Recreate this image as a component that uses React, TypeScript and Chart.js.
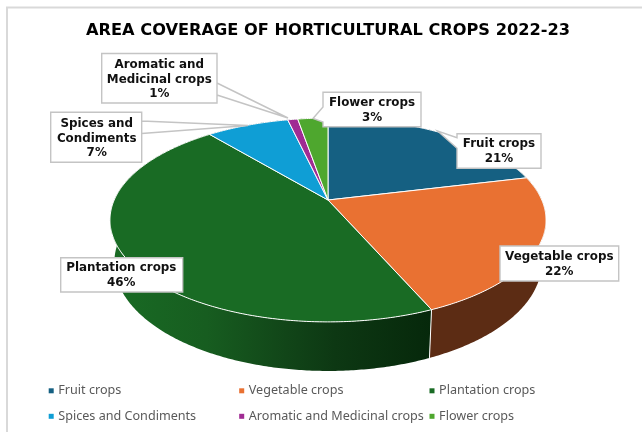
import React, { useEffect, useRef } from "react";
import { Chart, registerables } from "chart.js";

Chart.register(...registerables);

const categories = ["Fruit crops", "Vegetable crops", "Plantation crops", "Spices and Condiments", "Aromatic and Medicinal crops", "Flower crops"];
const areaShare = [21.2, 22.3, 45.5, 7.4, 0.9, 2.7];
const percentLabels = ["21%", "22%", "46%", "7%", "1%", "3%"];
const sliceColors = ["#156082", "#E97132", "#196B24", "#0F9ED5", "#A02B93", "#4EA72E"];
const chartTitle = "AREA COVERAGE OF HORTICULTURAL CROPS 2022-23";

// Callout layout (one per category): wrapped name, box, tail polygon, text anchor
const calloutLines = [
  ["Fruit crops"],
  ["Vegetable crops"],
  ["Plantation crops"],
  ["Spices and", "Condiments"],
  ["Aromatic and", "Medicinal crops"],
  ["Flower crops"],
];
const calloutBoxes = [
  { x: 457, y: 133.7, w: 84, h: 34.6, cx: 499, top: 144, tail: [[457, 137.7], [437.7, 131], [457, 148.3]] },
  { x: 500, y: 246, w: 118.7, h: 35, cx: 559.3, top: 257.3, tail: [] },
  { x: 60.7, y: 257.7, w: 122, h: 34.3, cx: 121.3, top: 268.3, tail: [] },
  { x: 50.7, y: 112.3, w: 91, h: 50, cx: 96.7, top: 124, tail: [[141.7, 121], [248, 125.5], [141.7, 133.5]] },
  { x: 101.7, y: 53.5, w: 115.3, h: 49.5, cx: 159.3, top: 65, tail: [[217, 83], [288, 118], [217, 95]] },
  { x: 323, y: 92.3, w: 98, h: 34.4, cx: 372, top: 103, tail: [[323, 107], [313, 118.5], [323, 122]] },
];

// Perspective parameters of the pie disc
const CX = 328, CY = 200, RX = 213.8, RY = 98, P = 0.196, SHRINK = 0.98, DEPTH = 41.4;

function topPoint(a: number): [number, number] {
  const u = Math.cos(a), v = Math.sin(a), w = 1 - P * v;
  return [CX + (RX * u) / w, CY + (RY * v) / w];
}
function bottomPoint(a: number): [number, number] {
  const [x, y] = topPoint(a);
  const w = 1 - P * Math.sin(a);
  return [CX + SHRINK * (x - CX), CY + SHRINK * (y - CY) + DEPTH / w];
}
function arcSamples(start: number, end: number): number[] {
  const n = Math.max(2, Math.ceil((end - start) / 0.01));
  const out: number[] = [];
  for (let i = 0; i <= n; i++) out.push(start + ((end - start) * i) / n);
  return out;
}
function wallFill(ctx: CanvasRenderingContext2D, i: number): string | CanvasGradient {
  if (i === 2) {
    const g = ctx.createLinearGradient(110, 0, 432, 0);
    g.addColorStop(0, "#196B24");
    g.addColorStop(0.3, "#175D20");
    g.addColorStop(0.55, "#114518");
    g.addColorStop(0.7, "#0D3813");
    g.addColorStop(1, "#06280B");
    return g;
  }
  if (i === 1) return "#5C2C14";
  return "#333333";
}

const piePlugin = {
  id: "perspectivePie",
  beforeDraw(chart: any) {
    const { ctx, width, height } = chart;
    ctx.save();
    ctx.fillStyle = "#FFFFFF";
    ctx.fillRect(0, 0, width, height);
    ctx.strokeStyle = "#D9D9D9";
    ctx.lineWidth = 2;
    ctx.beginPath();
    ctx.moveTo(width, 7.5);
    ctx.lineTo(7, 7.5);
    ctx.lineTo(7, height);
    ctx.stroke();
    ctx.restore();
  },
  beforeDatasetsDraw(chart: any) {
    const { ctx } = chart;
    const arcs = chart.getDatasetMeta(0).data;
    const colors = chart.data.datasets[0].backgroundColor;
    ctx.save();
    ctx.lineJoin = "round";
    ctx.strokeStyle = "#FFFFFF";
    ctx.lineWidth = 1;
    // Outer walls
    arcs.forEach((arc: any, i: number) => {
      const pts = arcSamples(arc.startAngle, arc.endAngle);
      ctx.beginPath();
      pts.forEach((a, k) => {
        const [x, y] = topPoint(a);
        k ? ctx.lineTo(x, y) : ctx.moveTo(x, y);
      });
      [...pts].reverse().forEach((a) => {
        const [x, y] = bottomPoint(a);
        ctx.lineTo(x, y);
      });
      ctx.closePath();
      ctx.fillStyle = wallFill(ctx, i);
      ctx.fill();
    });
    // White seam between the visible walls
    const seam = arcs[1].endAngle;
    ctx.beginPath();
    ctx.moveTo(...topPoint(seam));
    ctx.lineTo(...bottomPoint(seam));
    ctx.stroke();
    // Top faces
    arcs.forEach((arc: any, i: number) => {
      ctx.beginPath();
      ctx.moveTo(CX, CY);
      arcSamples(arc.startAngle, arc.endAngle).forEach((a) => {
        const [x, y] = topPoint(a);
        ctx.lineTo(x, y);
      });
      ctx.closePath();
      ctx.fillStyle = colors[i];
      ctx.fill();
      ctx.stroke();
    });
    ctx.restore();
    return false;
  },
  afterDraw(chart: any) {
    const { ctx } = chart;
    const labels: string[] = chart.data.labels;
    const colors: string[] = chart.data.datasets[0].backgroundColor;
    ctx.save();
    // Callouts
    calloutBoxes.forEach((b, i) => {
      ctx.beginPath();
      ctx.moveTo(b.x, b.y);
      ctx.lineTo(b.x + b.w, b.y);
      ctx.lineTo(b.x + b.w, b.y + b.h);
      ctx.lineTo(b.x, b.y + b.h);
      if (i === 5 || i === 0) {
        ctx.lineTo(b.tail[2][0], b.tail[2][1]);
        ctx.lineTo(b.tail[1][0], b.tail[1][1]);
        ctx.lineTo(b.tail[0][0], b.tail[0][1]);
      }
      ctx.closePath();
      if (i === 3 || i === 4) {
        ctx.moveTo(b.tail[0][0], b.tail[0][1]);
        ctx.lineTo(b.tail[1][0], b.tail[1][1]);
        ctx.lineTo(b.tail[2][0], b.tail[2][1]);
      }
      ctx.fillStyle = "#FFFFFF";
      ctx.strokeStyle = "#C4C4C4";
      ctx.lineWidth = 1.4;
      ctx.fill();
      ctx.stroke();
      ctx.font = "bold 11.9px 'DejaVu Sans'";
      ctx.fillStyle = "#111111";
      ctx.textAlign = "center";
      ctx.textBaseline = "middle";
      [...calloutLines[i], percentLabels[i]].forEach((t, k) => {
        ctx.fillText(t, b.cx, b.top + k * 14.6);
      });
    });
    // Legend
    const colX = [48.7, 239.2, 429.5];
    const rowY = [390.8, 416.3];
    ctx.font = "12.6px 'Noto Sans'";
    ctx.textAlign = "left";
    ctx.textBaseline = "middle";
    labels.forEach((t, i) => {
      const x = colX[i % 3], y = rowY[Math.floor(i / 3)];
      ctx.fillStyle = colors[i];
      ctx.fillRect(x, y - 2.5, 5, 5);
      ctx.fillStyle = "#595959";
      ctx.fillText(t, x + 9.6, y);
    });
    ctx.restore();
  },
};

export default function App() {
  const ref = useRef<HTMLCanvasElement>(null);
  useEffect(() => {
    const chart = new Chart(ref.current!, {
      type: "pie",
      data: {
        labels: categories,
        datasets: [{ data: areaShare, backgroundColor: sliceColors, borderColor: "#FFFFFF", borderWidth: 1 }],
      },
      options: {
        responsive: false,
        animation: false,
        devicePixelRatio: 1,
        layout: { padding: { left: 14, top: 18, right: 0, bottom: 0 } },
        plugins: {
          legend: { display: false },
          tooltip: { enabled: false },
          title: {
            display: true,
            text: chartTitle,
            color: "#000000",
            font: { family: "'DejaVu Sans'", size: 16.2, weight: "bold" },
            padding: { top: 3, bottom: 10 },
          },
        },
      },
      plugins: [piePlugin],
    } as any);
    return () => chart.destroy();
  }, []);
  return (
    <div style={{ position: "absolute", left: 0, top: 0, width: 642, height: 432 }}>
      <canvas ref={ref} width={642} height={432} style={{ display: "block" }} />
    </div>
  );
}
